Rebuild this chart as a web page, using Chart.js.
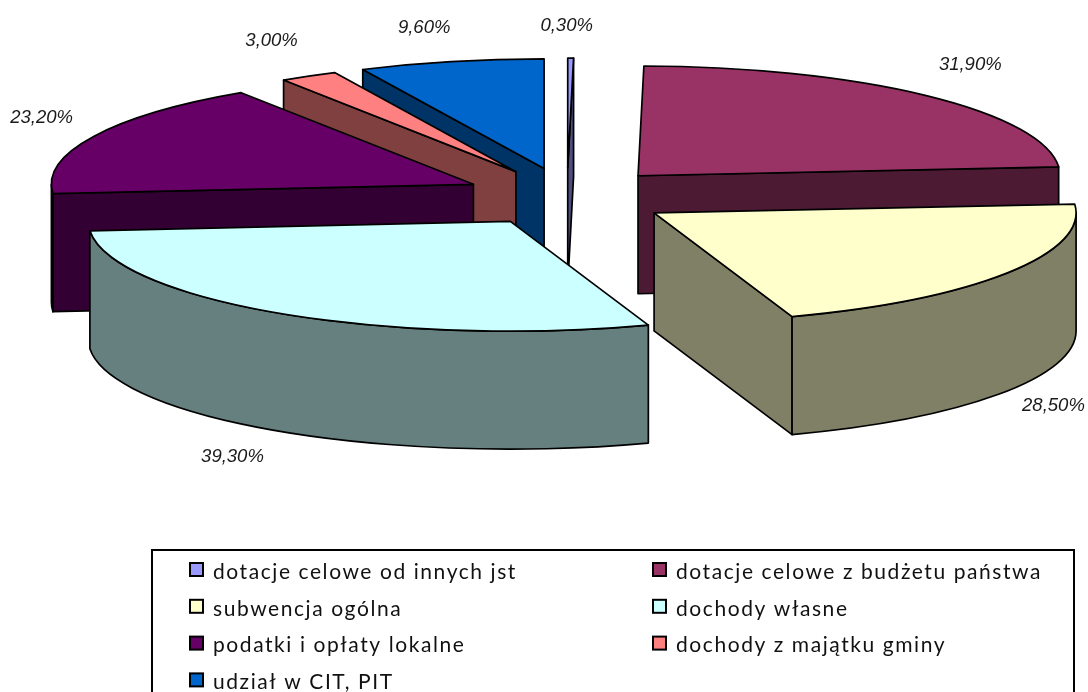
<!DOCTYPE html>
<html>
<head>
<meta charset="utf-8">
<title>Struktura dochodów</title>
<script src="https://cdn.jsdelivr.net/npm/chart.js@4"></script>
<style>
  html, body { margin: 0; padding: 0; background: #fff; overflow: hidden; }
  #wrap { width: 1088px; height: 692px; }
</style>
</head>
<body>
<div id="wrap"><canvas id="myChart" width="1088" height="692"></canvas></div>
<script>
const categories = [
  "dotacje celowe od innych jst",
  "dotacje celowe z budżetu państwa",
  "subwencja ogólna",
  "dochody własne",
  "podatki i opłaty lokalne",
  "dochody z majątku gminy",
  "udział w CIT, PIT"
];
const shares = [0.3, 31.9, 28.5, 39.3, 23.2, 3.0, 9.6];
const shareLabels = ["0,30%", "31,90%", "28,50%", "39,30%", "23,20%", "3,00%", "9,60%"];
const topColors = ["#9999ff", "#993366", "#ffffcc", "#ccffff", "#660066", "#ff8080", "#0066cc"];
const wallColors = ["#4d4d80", "#4d1a33", "#808066", "#668080", "#330033", "#804040", "#003366"];

// look of the tilted pie
const pieX = 567;
const pieY = 197;
const radius = 422;
const squash = 0.26;
const depth = 118;
const explode = 104;
const explodeTilt = 0.28;
const outline = 1.7;

// label position, relative to the outer middle of each slice
const labelShift = [[-4, -32], [44, -31], [46, 133], [-48, 143], [-52, -19], [-37, -35], [-27, -34]];
// back to front
const wallOrder = [0, 6, 5, 1, 4, 2, 3];

function sliceGeometry(arc) {
  const mid = (arc.startAngle + arc.endAngle) / 2;
  const ax = pieX + Math.cos(mid) * explode;
  const ay = pieY + Math.sin(mid) * explode * explodeTilt;
  const point = (a) => [ax + Math.cos(a) * radius, ay + Math.sin(a) * radius * squash];
  return { mid, ax, ay, point, start: arc.startAngle, end: arc.endAngle };
}

function drawWall(ctx, path, color) {
  ctx.beginPath();
  path();
  ctx.closePath();
  ctx.fillStyle = color;
  ctx.fill();
  ctx.stroke();
}

const pie3d = {
  id: "pie3d",
  // the plugin paints the dataset itself, walls first and then the arcs
  beforeDatasetDraw(chart) {
    const ctx = chart.ctx;
    const arcs = chart.getDatasetMeta(0).data;

    ctx.save();
    ctx.strokeStyle = "#000";
    ctx.lineWidth = outline;
    ctx.lineJoin = "round";
    wallOrder.forEach((i) => {
      const g = sliceGeometry(arcs[i]);
      const s = g.point(g.start);
      const e = g.point(g.end);
      // cut faces that look at the viewer
      if (s[0] < g.ax) {
        drawWall(ctx, () => {
          ctx.moveTo(g.ax, g.ay);
          ctx.lineTo(s[0], s[1]);
          ctx.lineTo(s[0], s[1] + depth);
          ctx.lineTo(g.ax, g.ay + depth);
        }, wallColors[i]);
      }
      if (e[0] > g.ax) {
        drawWall(ctx, () => {
          ctx.moveTo(g.ax, g.ay);
          ctx.lineTo(e[0], e[1]);
          ctx.lineTo(e[0], e[1] + depth);
          ctx.lineTo(g.ax, g.ay + depth);
        }, wallColors[i]);
      }
      // rim, only the front half of the circle shows
      const from = Math.max(g.start, 0);
      const to = Math.min(g.end, Math.PI);
      if (to > from) {
        drawWall(ctx, () => {
          ctx.ellipse(g.ax, g.ay, radius, radius * squash, 0, from, to);
          ctx.ellipse(g.ax, g.ay + depth, radius, radius * squash, 0, to, from, true);
        }, wallColors[i]);
      }
    });

    // top faces, each arc moved out and squashed
    arcs.forEach((arc) => {
      const g = sliceGeometry(arc);
      ctx.save();
      ctx.translate(g.ax, g.ay);
      ctx.scale(1, squash);
      ctx.translate(-arc.x, -arc.y);
      arc.draw(ctx);
      ctx.restore();
      ctx.beginPath();
      ctx.moveTo(g.ax, g.ay);
      ctx.ellipse(g.ax, g.ay, radius, radius * squash, 0, g.start, g.end);
      ctx.closePath();
      ctx.stroke();
    });

    ctx.fillStyle = "#1a1a1a";
    ctx.font = "italic 18.5px 'Liberation Sans'";
    ctx.textAlign = "center";
    ctx.textBaseline = "middle";
    arcs.forEach((arc, i) => {
      const g = sliceGeometry(arc);
      const p = g.point(g.mid);
      ctx.fillText(shareLabels[i], p[0] + labelShift[i][0], p[1] + labelShift[i][1]);
    });
    ctx.restore();
    return false;
  }
};

const boxLegend = {
  id: "boxLegend",
  afterDraw(chart) {
    const ctx = chart.ctx;
    ctx.save();
    ctx.strokeStyle = "#000";
    ctx.lineWidth = 2;
    ctx.beginPath();
    ctx.moveTo(152, 700);
    ctx.lineTo(152, 550);
    ctx.lineTo(1074, 550);
    ctx.lineTo(1074, 700);
    ctx.stroke();

    ctx.font = "21px Lato";
    ctx.letterSpacing = "1.57px";
    ctx.textAlign = "left";
    ctx.textBaseline = "middle";
    categories.forEach((name, i) => {
      const x = i % 2 === 0 ? 190 : 653;
      const y = 570 + Math.floor(i / 2) * 36.8;
      ctx.fillStyle = topColors[i];
      ctx.fillRect(x, y - 7, 13, 13);
      ctx.lineWidth = 2;
      ctx.strokeRect(x, y - 7, 13, 13);
      ctx.fillStyle = "#111";
      ctx.fillText(name, x + 23, y + 2);
    });
    ctx.restore();
  }
};

new Chart(document.getElementById("myChart"), {
  type: "pie",
  data: {
    labels: categories,
    datasets: [{
      data: shares,
      backgroundColor: topColors,
      borderWidth: 0,
      clip: false
    }]
  },
  options: {
    responsive: false,
    animation: false,
    radius: radius,
    events: [],
    plugins: {
      legend: { display: false },
      tooltip: { enabled: false }
    }
  },
  plugins: [pie3d, boxLegend]
});
</script>
</body>
</html>
